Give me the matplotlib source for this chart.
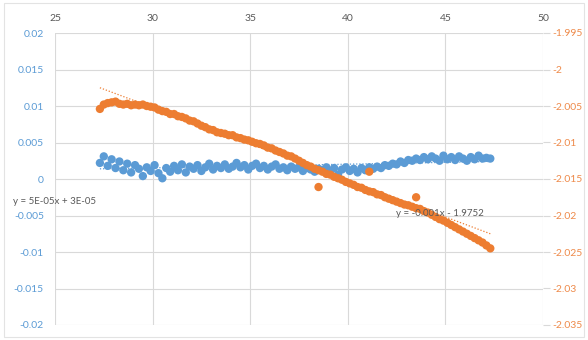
import matplotlib
matplotlib.use("Agg")
import matplotlib.pyplot as plt
from matplotlib.patches import Rectangle

plt.rcParams['font.family'] = ['Lato', 'DejaVu Sans']

x = [27.3, 27.5, 27.7, 27.9, 28.1, 28.3, 28.5, 28.7, 28.9, 29.1,
     29.3, 29.5, 29.7, 29.9, 30.1, 30.3, 30.5, 30.7, 30.9, 31.1,
     31.3, 31.5, 31.7, 31.9, 32.1, 32.3, 32.5, 32.7, 32.9, 33.1,
     33.3, 33.5, 33.7, 33.9, 34.1, 34.3, 34.5, 34.7, 34.9, 35.1,
     35.3, 35.5, 35.7, 35.9, 36.1, 36.3, 36.5, 36.7, 36.9, 37.1,
     37.3, 37.5, 37.7, 37.9, 38.1, 38.3, 38.5, 38.7, 38.9, 39.1,
     39.3, 39.5, 39.7, 39.9, 40.1, 40.3, 40.5, 40.7, 40.9, 41.1,
     41.3, 41.5, 41.7, 41.9, 42.1, 42.3, 42.5, 42.7, 42.9, 43.1,
     43.3, 43.5, 43.7, 43.9, 44.1, 44.3, 44.5, 44.7, 44.9, 45.1,
     45.3, 45.5, 45.7, 45.9, 46.1, 46.3, 46.5, 46.7, 46.9, 47.1,
     47.3]

blue_y = [0.0022, 0.0031, 0.0018, 0.0027, 0.0015, 0.0024, 0.0012, 0.0021, 0.0009, 0.0019,
          0.0014, 0.0004, 0.0016, 0.0011, 0.0019, 0.0008, 0.0001, 0.0015, 0.0010, 0.0018,
          0.0012, 0.0020, 0.0009, 0.0017, 0.0014, 0.0019, 0.0011, 0.0016, 0.0021, 0.0013,
          0.0018, 0.0015, 0.0020, 0.0014, 0.0017, 0.0022, 0.0016, 0.0019, 0.0013, 0.0018,
          0.0021, 0.0015, 0.0018, 0.0013, 0.0017, 0.0020, 0.0014, 0.0016, 0.0012, 0.0017,
          0.0014, 0.0016, 0.0011, 0.0015, 0.0013, 0.0010, 0.0014, 0.0012, 0.0016, 0.0011,
          0.0015, 0.0006, 0.0013, 0.0016, 0.0011, 0.0014, 0.0009, 0.0015, 0.0012, 0.0016,
          0.0014, 0.0017, 0.0015, 0.0019, 0.0018, 0.0021, 0.0020, 0.0024, 0.0022, 0.0026,
          0.0025, 0.0028, 0.0026, 0.0030, 0.0027, 0.0031, 0.0028, 0.0025, 0.0032, 0.0027,
          0.0030, 0.0026, 0.0031, 0.0028, 0.0025, 0.0030, 0.0027, 0.0032, 0.0028, 0.0029,
          0.0028]

orange_y = [-2.0054, -2.0048, -2.0046, -2.0045, -2.0044, -2.0047, -2.0048, -2.0047, -2.0049, -2.0048,
            -2.0049, -2.0048, -2.0050, -2.0051, -2.0052, -2.0055, -2.0057, -2.0058, -2.0061, -2.0061,
            -2.0064, -2.0065, -2.0067, -2.0070, -2.0071, -2.0074, -2.0077, -2.0079, -2.0082, -2.0083,
            -2.0086, -2.0087, -2.0088, -2.0090, -2.0090, -2.0093, -2.0094, -2.0096, -2.0097, -2.0099,
            -2.0101, -2.0102, -2.0104, -2.0107, -2.0108, -2.0111, -2.0113, -2.0115, -2.0118, -2.0119,
            -2.0122, -2.0125, -2.0128, -2.0131, -2.0133, -2.0136, -2.0138, -2.0140, -2.0143, -2.0144,
            -2.0147, -2.0149, -2.0151, -2.0154, -2.0156, -2.0158, -2.0161, -2.0162, -2.0165, -2.0167,
            -2.0168, -2.0171, -2.0172, -2.0175, -2.0177, -2.0179, -2.0181, -2.0183, -2.0185, -2.0186,
            -2.0188, -2.0190, -2.0191, -2.0194, -2.0196, -2.0199, -2.0202, -2.0205, -2.0207, -2.0210,
            -2.0213, -2.0216, -2.0219, -2.0222, -2.0225, -2.0228, -2.0231, -2.0234, -2.0237, -2.0241,
            -2.0245]

orange_extra_x = [38.5, 41.1, 43.5]
orange_extra_y = [-2.0161, -2.0140, -2.0175]

blue_trend = (5e-05, 3e-05)
orange_trend = (-0.001, -1.9752)
blue_eq = "y = 5E-05x + 3E-05"
orange_eq = "y = -0.001x - 1.9752"

x_ticks = [25, 30, 35, 40, 45, 50]
left_ticks = [0.02, 0.015, 0.01, 0.005, 0, -0.005, -0.01, -0.015, -0.02]
left_labels = ["0.02", "0.015", "0.01", "0.005", "0", "-0.005", "-0.01", "-0.015", "-0.02"]
right_ticks = [-1.995, -2.0, -2.005, -2.01, -2.015, -2.02, -2.025, -2.03, -2.035]
right_labels = ["-1.995", "-2", "-2.005", "-2.01", "-2.015", "-2.02", "-2.025", "-2.03", "-2.035"]

BLUE = "#5B9BD5"
ORANGE = "#ED7D31"
GRID = "#D9D9D9"
TXT = "#595959"

fig = plt.figure(figsize=(5.88, 3.40), dpi=100)
fig.patches.append(Rectangle((4/588, 3/340), 580/588, 334/340, transform=fig.transFigure,
                             fill=False, edgecolor="#E3E3E3", linewidth=0.8))

ax = fig.add_axes([55/588, 1-325/340, 488/588, 292/340])
ax2 = ax.twinx()

ax.set_xlim(25, 50)
ax.set_ylim(-0.02, 0.02)
ax2.set_ylim(-2.035, -1.995)

ax.set_xticks(x_ticks)
ax.set_xticklabels([str(t) for t in x_ticks])
ax.xaxis.tick_top()
ax.set_yticks(left_ticks)
ax.set_yticklabels(left_labels)
ax2.set_yticks(right_ticks)
ax2.set_yticklabels(right_labels)

ax.grid(True, color=GRID, linewidth=0.8)
ax.set_axisbelow(True)
for a in (ax, ax2):
    for s in a.spines.values():
        s.set_visible(False)

ax.tick_params(axis='x', length=0, pad=7, labelsize=7.5, labelcolor=TXT)
ax.tick_params(axis='y', length=0, pad=8, labelsize=7.5, labelcolor=BLUE)
ax2.tick_params(axis='y', length=5, width=0.8, color=GRID, pad=2, labelsize=7.5, labelcolor="#EE8A4A")

ax.scatter(x, blue_y, s=36, color=BLUE, edgecolors='none', zorder=3)
ax2.scatter(x, orange_y, s=36, color=ORANGE, edgecolors='none', zorder=3)
ax2.scatter(orange_extra_x, orange_extra_y, s=36, color=ORANGE, edgecolors='none', zorder=3)

tx = [x[0], x[-1]]
ax.plot(tx, [blue_trend[0]*v + blue_trend[1] for v in tx], linestyle=(0, (1, 1.5)),
        color=BLUE, linewidth=0.9, zorder=4)
ax2.plot(tx, [orange_trend[0]*v + orange_trend[1] for v in tx], linestyle=(0, (1, 1.5)),
         color=ORANGE, linewidth=0.9, zorder=4)

fig.text(13/588, 1-202/340, blue_eq, fontsize=7, color=TXT, va='center', ha='left')
fig.text(396/588, 1-213/340, orange_eq, fontsize=7, color=TXT, va='center', ha='left')

fig.savefig("out.png", dpi=100)
